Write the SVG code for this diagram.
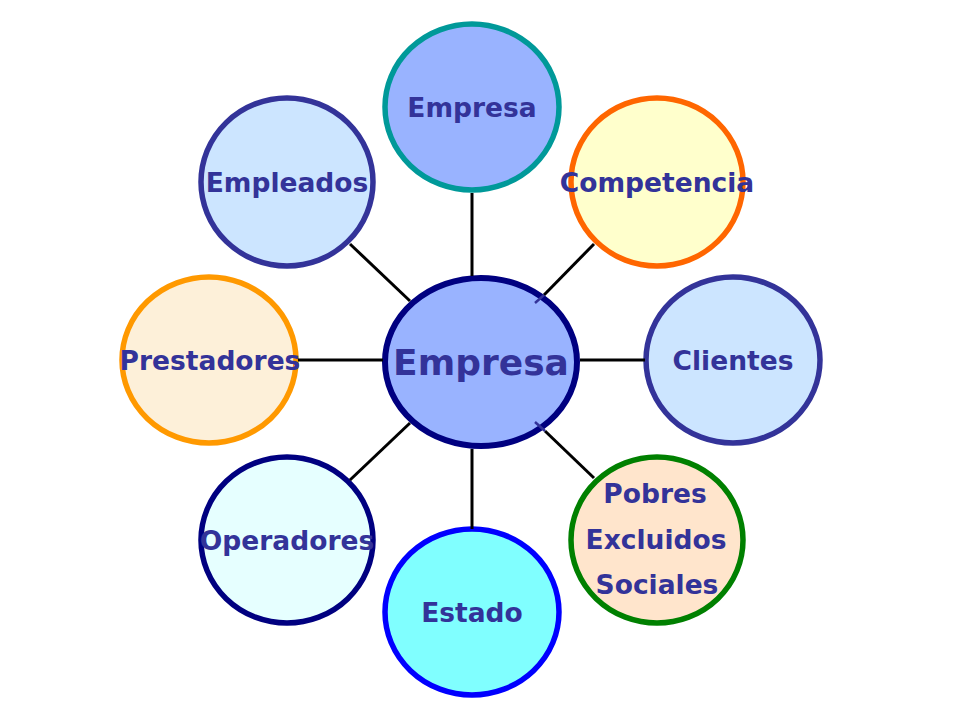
<svg xmlns="http://www.w3.org/2000/svg" width="960" height="720" viewBox="0 0 960 720">
<style>
.n{stroke-width:5.5}
.t{font-family:"DejaVu Sans","Liberation Sans",sans-serif;font-weight:bold;fill:#333399;text-anchor:middle;font-size:26.5px}
.c{stroke:#000;stroke-width:3;fill:none}
</style>
<rect width="960" height="720" fill="#fff"/>
<g id="n-empresa-top"><ellipse class="n" cx="472" cy="107" rx="87" ry="83" fill="#99b3ff" stroke="#009999"/><text class="t" x="472" y="117">Empresa</text></g>
<g id="n-competencia"><ellipse class="n" cx="657" cy="182" rx="86" ry="84" fill="#ffffcc" stroke="#ff6600"/><text class="t" x="657" y="192">Competencia</text></g>
<g id="n-clientes"><ellipse class="n" cx="733" cy="360" rx="87" ry="83" fill="#cce5ff" stroke="#333399"/><text class="t" x="733" y="370">Clientes</text></g>
<g id="n-pobres"><ellipse class="n" cx="657" cy="540" rx="86" ry="83" fill="#ffe5cc" stroke="#008000"/><text class="t" x="655" y="503">Pobres</text><text class="t" x="656" y="549">Excluidos</text><text class="t" x="657" y="594">Sociales</text></g>
<g id="n-estado"><ellipse class="n" cx="472" cy="612" rx="87" ry="83" fill="#80ffff" stroke="#0000ff"/><text class="t" x="472" y="622">Estado</text></g>
<g id="n-operadores"><ellipse class="n" cx="287" cy="540" rx="86" ry="83" fill="#e6ffff" stroke="#000080"/><text class="t" x="287" y="550">Operadores</text></g>
<g id="n-prestadores"><ellipse class="n" cx="209" cy="360" rx="87" ry="83" fill="#fdf0d9" stroke="#ff9900"/><text class="t" x="210" y="370">Prestadores</text></g>
<g id="n-empleados"><ellipse class="n" cx="287" cy="182" rx="86" ry="84" fill="#cce5ff" stroke="#333399"/><text class="t" x="287" y="192">Empleados</text></g>
<g id="n-empresa-center"><ellipse cx="481" cy="362" rx="96" ry="84" fill="#99b3ff" stroke="#000080" stroke-width="6"/><text class="t" x="481" y="375" style="font-size:36px">Empresa</text></g>
<g id="connectors">
<line class="c" x1="472" y1="193" x2="472" y2="276"/>
<line class="c" x1="594" y1="244" x2="544" y2="295"/>
<line class="c" x1="544" y1="295" x2="535" y2="303" style="stroke:#333399;stroke-width:2.5"/>
<line class="c" x1="580" y1="360" x2="645" y2="360"/>
<line class="c" x1="594" y1="478" x2="545" y2="431"/>
<line class="c" x1="545" y1="431" x2="535" y2="422" style="stroke:#333399;stroke-width:2.5"/>
<line class="c" x1="472" y1="449" x2="472" y2="529"/>
<line class="c" x1="350" y1="480" x2="410" y2="423"/>
<line class="c" x1="298" y1="360" x2="383" y2="360"/>
<line class="c" x1="350" y1="244" x2="410" y2="301"/>
</g>
</svg>
